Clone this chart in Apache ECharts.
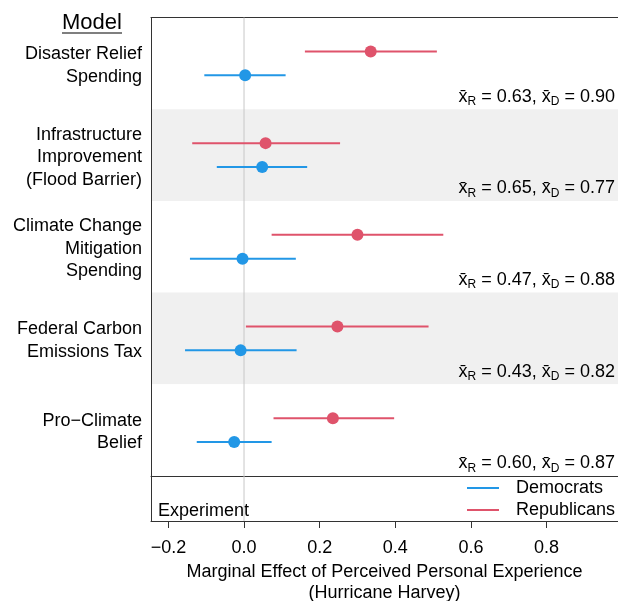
<!DOCTYPE html>
<html>
<head>
<meta charset="utf-8">
<script src="https://cdn.jsdelivr.net/npm/echarts@6/dist/echarts.min.js"></script>
<style>
  html, body { margin: 0; padding: 0; background: #fff; }
  #chart { width: 618px; height: 601px; }
</style>
</head>
<body>
<div id="chart"></div>
<script>
// models, top to bottom
var models = [
    'Disaster Relief\nSpending',
    'Infrastructure\nImprovement\n(Flood Barrier)',
    'Climate Change\nMitigation\nSpending',
    'Federal Carbon\nEmissions Tax',
    'Pro\u2212Climate\nBelief'
];

// Republicans: estimate and 95% interval
var repEst = [0.335, 0.057, 0.300, 0.247, 0.235];
var repLo = [0.161, -0.137, 0.073, 0.005, 0.078];
var repHi = [0.510, 0.254, 0.527, 0.488, 0.397];

// Democrats
var demEst = [0.003, 0.048, -0.004, -0.009, -0.026];
var demLo = [-0.105, -0.072, -0.143, -0.156, -0.125];
var demHi = [0.110, 0.167, 0.137, 0.139, 0.073];

// group means shown in each panel
var meanR = ['0.63', '0.65', '0.47', '0.43', '0.60'];
var meanD = ['0.90', '0.77', '0.88', '0.82', '0.87'];

var xTicks = [-0.2, 0, 0.2, 0.4, 0.6, 0.8];
var xMin = -0.246, xMax = 0.989;

var RED = '#DF536B', BLUE = '#2297E6', INK = '#333333';
var FONT = "'Liberation Sans', Arial, sans-serif";

function rows(est, lo, hi) {
    return est.map(function (v, i) { return [v, lo[i], hi[i], i]; });
}

// one interval + point, shifted up/down inside the panel
function barRenderer(shift) {
    return function (params, api) {
        var cat = api.value(3);
        var band = api.size([0, 1])[1];
        var p = api.coord([api.value(0), cat]);
        var a = api.coord([api.value(1), cat]);
        var b = api.coord([api.value(2), cat]);
        var y = p[1] + shift * band;
        var col = api.visual('color');
        return {
            type: 'group',
            children: [
                { type: 'line', shape: { x1: a[0], y1: y, x2: b[0], y2: y },
                  style: { stroke: col, lineWidth: 2 } },
                { type: 'circle', shape: { cx: p[0], cy: y, r: 6 },
                  style: { fill: col } }
            ]
        };
    };
}

// vertical reference line at x = 0 spanning the whole grid
function zeroLine(params, api) {
    var p = api.coord([api.value(0), api.value(1)]);
    var cs = params.coordSys;
    return {
        type: 'line',
        shape: { x1: p[0], y1: cs.y, x2: p[0], y2: cs.y + cs.height },
        style: { stroke: '#c8c8c8', lineWidth: 1 }
    };
}

var myChart = echarts.init(document.getElementById('chart'));

var option = {
    animation: false,
    textStyle: { fontFamily: FONT },
    grid: [
        { left: 151, right: 0, top: 17.5, height: 458.5, outerBoundsMode: 'none' },
        { left: 151, right: 0, top: 476, height: 45, outerBoundsMode: 'none' }
    ],
    xAxis: [
        { gridIndex: 0, type: 'value', min: xMin, max: xMax, position: 'top',
          axisLine: { show: true, onZero: false, lineStyle: { color: INK, width: 1 } },
          axisTick: { show: false }, axisLabel: { show: false }, splitLine: { show: false } },
        { gridIndex: 1, type: 'value', min: xMin, max: xMax, position: 'bottom',
          axisLine: { show: true, onZero: false, lineStyle: { color: INK, width: 1 } },
          axisTick: { show: true, length: 7, customValues: xTicks, lineStyle: { color: INK } },
          axisLabel: { show: true, customValues: xTicks, margin: 18, fontSize: 18, color: '#000',
              formatter: function (v) { return v.toFixed(1).replace('-', '\u2212'); } },
          splitLine: { show: false },
          name: 'Marginal Effect of Perceived Personal Experience\n(Hurricane Harvey)',
          nameLocation: 'middle', nameGap: 40.5,
          nameTextStyle: { fontSize: 18, lineHeight: 21, color: '#000' } },
        { gridIndex: 1, type: 'value', min: xMin, max: xMax, position: 'top',
          axisLine: { show: true, onZero: false, lineStyle: { color: INK, width: 1 } },
          axisTick: { show: false }, axisLabel: { show: false }, splitLine: { show: false } }
    ],
    yAxis: [
        { gridIndex: 0, type: 'category', data: models, inverse: true,
          axisLine: { show: true, onZero: false, lineStyle: { color: INK, width: 1 } },
          axisTick: { show: false },
          axisLabel: { fontSize: 18, lineHeight: 22.5, color: '#000', margin: 9, align: 'right',
              // small spacer line on top pushes the block ~2px down
              formatter: function (v) { return '{sp| }\n' + v; },
              rich: { sp: { fontSize: 4, lineHeight: 4 } } },
          splitLine: { show: false },
          splitArea: { show: true, areaStyle: { color: ['#ffffff', '#f0f0f0'] } } },
        { gridIndex: 1, type: 'value', min: 0, max: 1,
          axisLine: { show: true, onZero: false, lineStyle: { color: INK, width: 1 } },
          axisTick: { show: false }, axisLabel: { show: false }, splitLine: { show: false } }
    ],
    legend: {
        data: ['Democrats', 'Republicans'],
        orient: 'vertical', left: 467, top: 477, padding: 0,
        itemWidth: 32, itemHeight: 2, itemGap: 0, icon: 'rect',
        textStyle: { fontSize: 18, lineHeight: 22, color: '#000', padding: [0, 0, 0, 12] }
    },
    series: [
        { type: 'custom', name: 'zero', xAxisIndex: 0, yAxisIndex: 0, z: 1, silent: true,
          encode: { x: 0, y: 1 }, renderItem: zeroLine, data: [[0, 0]] },
        { type: 'custom', name: 'zero2', xAxisIndex: 1, yAxisIndex: 1, z: 1, silent: true,
          encode: { x: 0, y: 1 }, renderItem: zeroLine, data: [[0, 0.5]] },
        { type: 'custom', name: 'Democrats', xAxisIndex: 0, yAxisIndex: 0,
          color: BLUE, itemStyle: { color: BLUE }, z: 5,
          encode: { x: [0, 1, 2], y: 3 },
          renderItem: barRenderer(0.13), data: rows(demEst, demLo, demHi) },
        { type: 'custom', name: 'Republicans', xAxisIndex: 0, yAxisIndex: 0,
          color: RED, itemStyle: { color: RED }, z: 5,
          encode: { x: [0, 1, 2], y: 3 },
          renderItem: barRenderer(-0.13), data: rows(repEst, repLo, repHi) },
        { type: 'custom', name: 'means', xAxisIndex: 0, yAxisIndex: 0, z: 6, silent: true,
          encode: { x: 0, y: 1 },
          renderItem: function (params, api) {
              var i = api.value(1);
              var band = api.size([0, 1])[1];
              var p = api.coord([api.value(0), i]);
              return {
                  type: 'text',
                  style: {
                      x: p[0] - 3, y: p[1] + band / 2 - 12.5,
                      align: 'right', verticalAlign: 'middle',
                      text: '{m|x\u0304}{s|R}{m| = ' + meanR[i] + ', x\u0304}{s|D}{m| = ' + meanD[i] + '}',
                      rich: {
                          m: { fontSize: 18, lineHeight: 22, fontFamily: FONT, fill: '#000', verticalAlign: 'middle' },
                          s: { fontSize: 12, lineHeight: 14, fontFamily: FONT, fill: '#000', verticalAlign: 'bottom' }
                      }
                  }
              };
          },
          data: meanR.map(function (v, i) { return [xMax, i]; }) }
    ],
    graphic: [
        { type: 'text', left: 158, top: 502.5,
          style: { text: 'Experiment', fontSize: 18, fontFamily: FONT, fill: '#000' } },
        { type: 'text', x: 92, y: 23,
          style: { text: 'Model', fontSize: 22, fontFamily: FONT, fill: '#000',
                   align: 'center', verticalAlign: 'middle' } },
        { type: 'line', shape: { x1: 62, y1: 33, x2: 122, y2: 33 },
          style: { stroke: '#000', lineWidth: 1.2 } }
    ]
};

myChart.setOption(option);
</script>
</body>
</html>
